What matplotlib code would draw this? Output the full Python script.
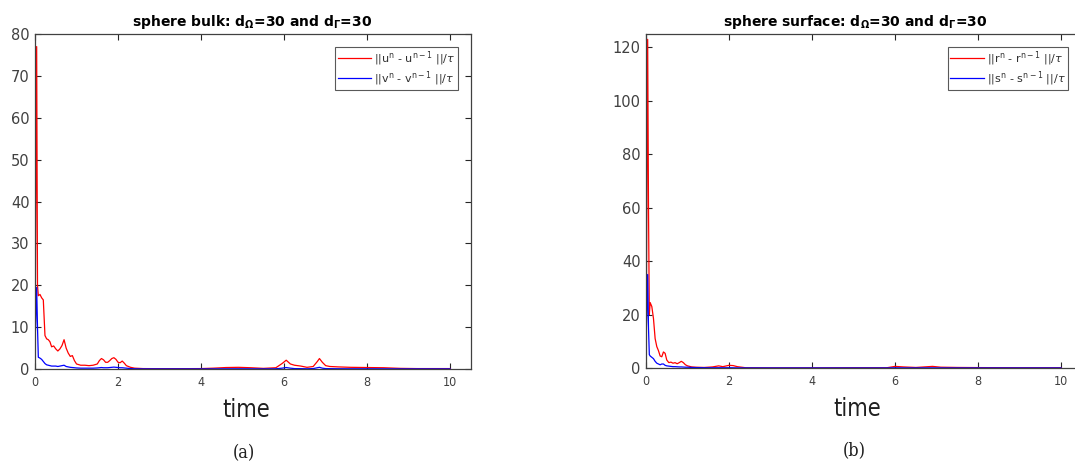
import matplotlib
matplotlib.use("Agg")
import matplotlib.pyplot as plt

# ---- sphere bulk: time samples and step differences ----
t_bulk = [0, 0.02, 0.04, 0.06, 0.08, 0.12, 0.16, 0.2, 0.24, 0.28, 0.32, 0.36,
          0.4, 0.45, 0.5, 0.55, 0.6, 0.65, 0.7, 0.75, 0.8, 0.85, 0.9, 0.95,
          1.0, 1.1, 1.2, 1.3, 1.4, 1.5, 1.55, 1.6, 1.65, 1.7, 1.75, 1.8,
          1.85, 1.9, 1.95, 2.0, 2.05, 2.1, 2.15, 2.2, 2.3, 2.4, 2.6, 3.0,
          3.5, 4.0, 4.3, 4.6, 4.9, 5.2, 5.5, 5.8, 5.95, 6.05, 6.15, 6.25,
          6.4, 6.55, 6.7, 6.8, 6.85, 6.92, 7.0, 7.1, 7.3, 7.6, 8.0, 8.4,
          8.8, 9.2, 9.6, 10.0]
u_diff = [3, 40, 77, 20, 17.5, 17.8, 17, 16.5, 8, 7.2, 7, 6.5,
          5.3, 5.5, 4.8, 4.3, 4.8, 5.6, 7.0, 5.0, 3.8, 3.0, 3.2, 2.0,
          1.2, 0.9, 0.9, 0.8, 0.9, 1.2, 2.0, 2.5, 2.2, 1.6, 1.6, 2.0,
          2.5, 2.7, 2.3, 1.6, 1.5, 1.9, 1.4, 0.8, 0.4, 0.2, 0.1, 0.08,
          0.08, 0.1, 0.2, 0.35, 0.4, 0.3, 0.15, 0.3, 1.3, 2.1, 1.2, 0.9,
          0.7, 0.4, 0.6, 1.8, 2.5, 1.6, 0.8, 0.6, 0.5, 0.4, 0.35, 0.3,
          0.15, 0.1, 0.1, 0.1]
v_diff = [6.2, 12, 19.5, 10, 2.8, 2.6, 2.3, 1.8, 1.3, 1.0, 0.9, 0.8,
          0.7, 0.7, 0.7, 0.6, 0.7, 0.8, 0.9, 0.6, 0.5, 0.4, 0.35, 0.3,
          0.25, 0.2, 0.2, 0.2, 0.2, 0.25, 0.3, 0.35, 0.3, 0.3, 0.3, 0.35,
          0.4, 0.45, 0.4, 0.35, 0.3, 0.3, 0.25, 0.2, 0.1, 0.05, 0.03, 0.03,
          0.03, 0.03, 0.03, 0.04, 0.05, 0.04, 0.03, 0.05, 0.2, 0.35, 0.2, 0.1,
          0.08, 0.05, 0.1, 0.3, 0.4, 0.2, 0.1, 0.08, 0.06, 0.05, 0.05, 0.04,
          0.03, 0.03, 0.03, 0.03]

# ---- sphere surface: time samples and step differences ----
t_surf = [0, 0.02, 0.04, 0.06, 0.08, 0.1, 0.14, 0.18, 0.22, 0.26, 0.3, 0.34,
          0.38, 0.42, 0.46, 0.5, 0.55, 0.6, 0.65, 0.7, 0.75, 0.8, 0.85, 0.9,
          0.95, 1.0, 1.1, 1.2, 1.4, 1.6, 1.75, 1.85, 2.0, 2.1, 2.2, 2.4,
          3.0, 4.0, 5.0, 5.8, 6.0, 6.2, 6.5, 6.8, 6.9, 7.1, 7.5, 8.0,
          9.0, 10.0]
r_diff = [1, 60, 123, 60, 20, 24.5, 23, 18.5, 11, 8, 6.5, 4.5,
          4.2, 6.0, 5.5, 3.0, 2.0, 2.2, 1.8, 2.0, 1.6, 2.0, 2.5, 2.0,
          1.2, 0.8, 0.4, 0.3, 0.2, 0.4, 0.8, 0.5, 1.0, 0.9, 0.5, 0.1,
          0.05, 0.05, 0.1, 0.1, 0.6, 0.4, 0.2, 0.5, 0.6, 0.3, 0.2, 0.15,
          0.1, 0.1]
s_diff = [11, 20, 35, 15, 5, 4.5, 4.0, 3.5, 2.5, 1.8, 1.5, 1.2,
          1.5, 1.5, 1.0, 0.8, 0.7, 0.6, 0.5, 0.5, 0.45, 0.4, 0.4, 0.35,
          0.3, 0.3, 0.2, 0.15, 0.1, 0.08, 0.1, 0.08, 0.1, 0.08, 0.05, 0.04,
          0.03, 0.03, 0.03, 0.03, 0.08, 0.05, 0.04, 0.06, 0.06, 0.04, 0.03, 0.03,
          0.03, 0.03]

x_ticks = [0, 2, 4, 6, 8, 10]
bulk_yticks = list(range(0, 81, 10))
surf_yticks = list(range(0, 121, 20))

title_bulk = r"sphere bulk: d$_\mathbf{\Omega}$=30 and d$_\mathbf{\Gamma}$=30"
title_surf = r"sphere surface: d$_\mathbf{\Omega}$=30 and d$_\mathbf{\Gamma}$=30"
labels_bulk = [r"||u$^{\rm n}$ - u$^{\rm n-1}$ ||/$\tau$",
               r"||v$^{\rm n}$ - v$^{\rm n-1}$ ||/$\tau$"]
labels_surf = [r"||r$^{\rm n}$ - r$^{\rm n-1}$ ||/$\tau$",
               r"||s$^{\rm n}$ - s$^{\rm n-1}$ ||/$\tau$"]

W, H = 1075, 468
fig = plt.figure(figsize=(W / 100, H / 100), dpi=100)
plt.rcParams["mathtext.fontset"] = "dejavusans"

def axes_px(x0, x1, y0, y1):
    return fig.add_axes([x0 / W, 1 - y1 / H, (x1 - x0) / W, (y1 - y0) / H])

ax1 = axes_px(35, 471, 34, 369)
ax2 = axes_px(646, 1082, 34, 368)

panels = [
    (ax1, t_bulk, u_diff, v_diff, labels_bulk, title_bulk, 80, bulk_yticks,
     "(a)", 0.498, 458),
    (ax2, t_surf, r_diff, s_diff, labels_surf, title_surf, 125, surf_yticks,
     "(b)", 0.479, 1068),
]

narrow = dict(family="DejaVu Sans", stretch="condensed")

for ax, t, a, b, labs, ttl, ytop, yt, tag, tx, leg_right in panels:
    ax.plot(t, a, color="#ff0000", lw=0.9, label=labs[0])
    ax.plot(t, b, color="#0000ff", lw=0.9, label=labs[1])
    ax.set_xlim(0, 10.5)
    ax.set_ylim(0, ytop)
    ax.set_xticks(x_ticks)
    ax.set_yticks(yt)
    ax.tick_params(axis="both", direction="in", top=True, right=True,
                   length=4, width=0.8, color="#262626")
    ax.tick_params(axis="y", labelsize=10.5, labelcolor="#404040", pad=4)
    ax.tick_params(axis="x", labelsize=9, labelcolor="#404040", pad=5)
    for lab in ax.get_xticklabels():
        lab.set_family(narrow["family"])
        lab.set_stretch(narrow["stretch"])
    for sp in ax.spines.values():
        sp.set_color("#404040")
        sp.set_linewidth(0.9)
    ax.set_title(ttl, fontsize=10, fontweight="bold", x=tx, pad=6)
    ax.text(0.485, -0.122, "time", transform=ax.transAxes, ha="center",
            va="center", fontsize=17, color="#202020", **narrow)
    ax.text(0.478, -0.25, tag, transform=ax.transAxes, ha="center",
            va="center", fontsize=13, family="DejaVu Serif",
            stretch="condensed", color="#202020")
    leg = ax.legend(loc="upper right", fontsize=8, frameon=True, fancybox=False,
                    edgecolor="#303030", handlelength=3.0, handletextpad=0.3,
                    borderpad=0.2, labelspacing=0.1, borderaxespad=0,
                    bbox_to_anchor=(leg_right / W, 1 - 47 / H),
                    bbox_transform=fig.transFigure)
    leg.get_frame().set_linewidth(0.8)
    for txt in leg.get_texts():
        txt.set_color("#303030")

fig.savefig("out.png", dpi=100)
